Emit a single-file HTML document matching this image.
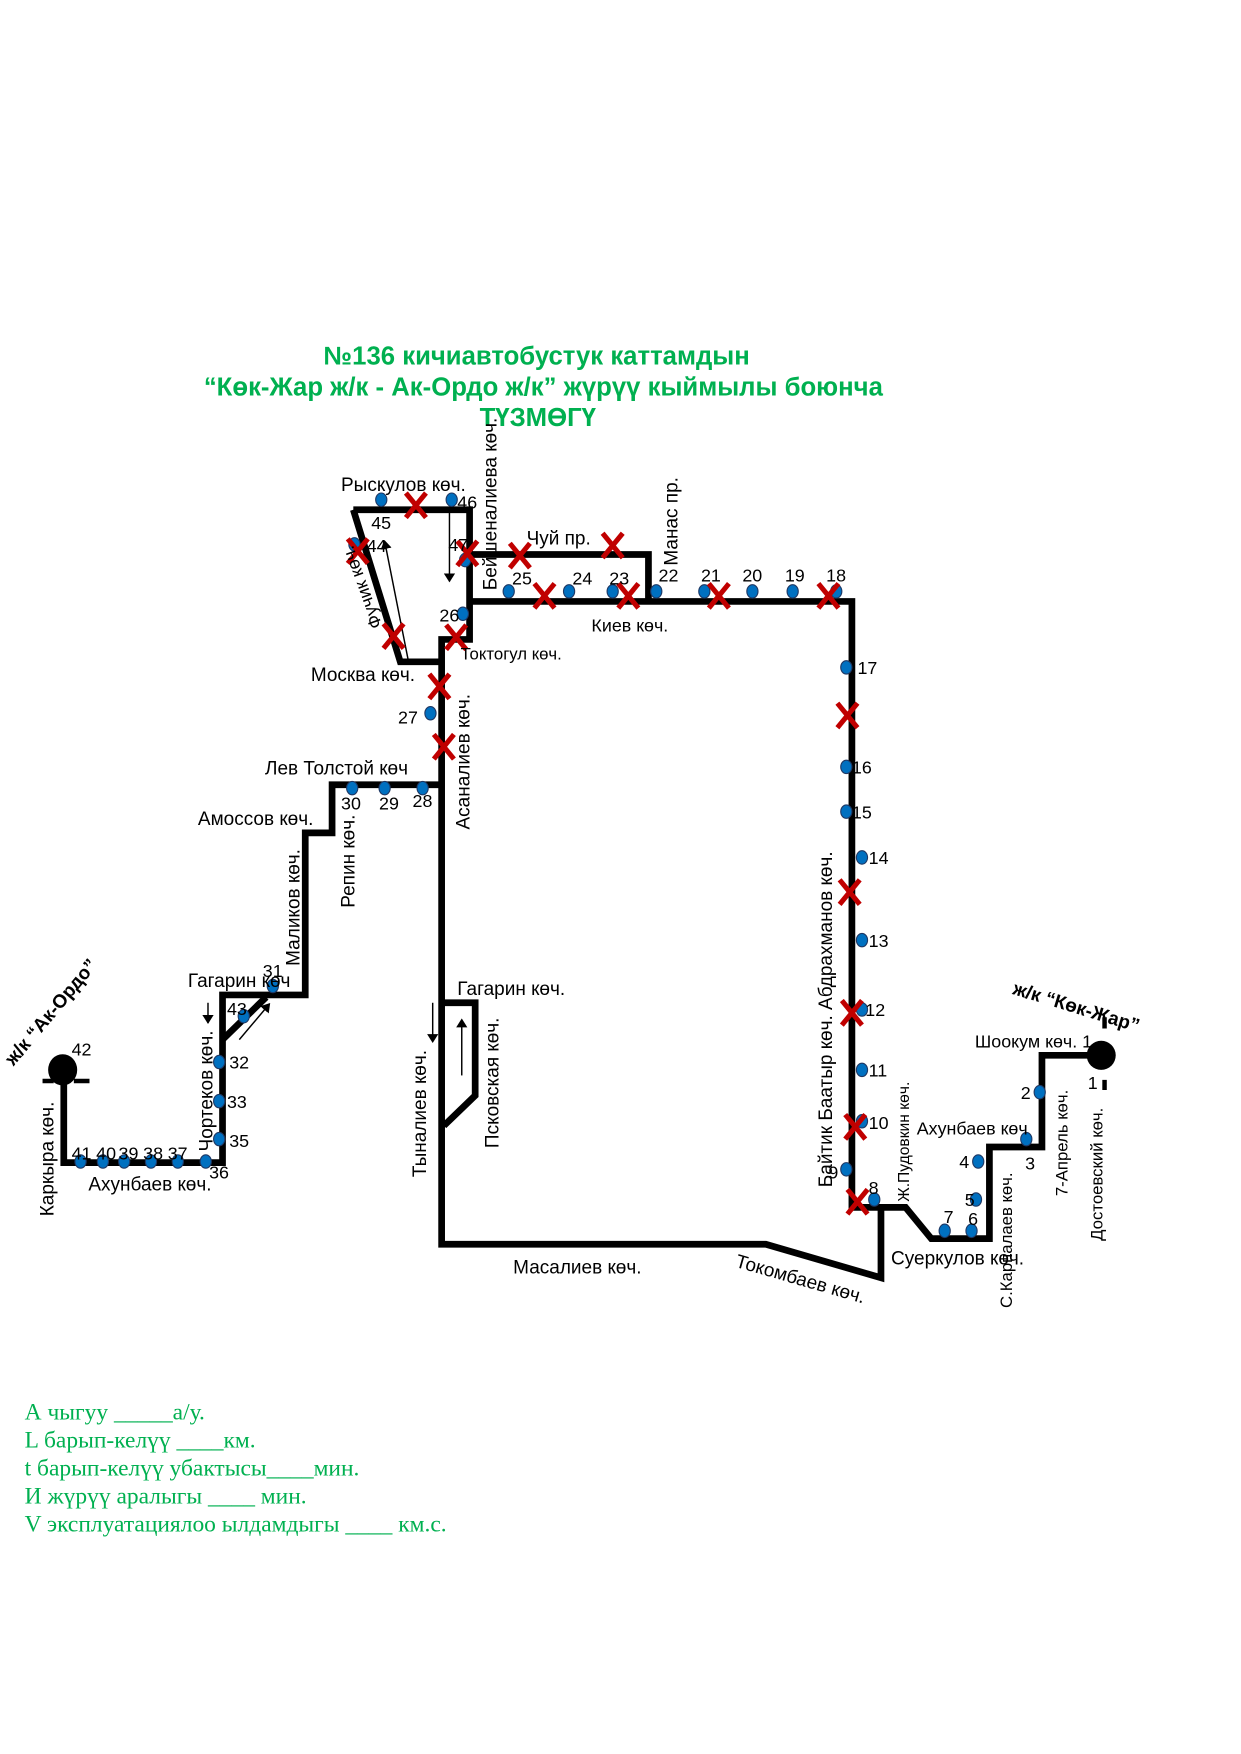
<!DOCTYPE html>
<html><head><meta charset="utf-8"><style>
html,body{margin:0;padding:0;background:#fff;}
svg{display:block;}
text{font-family:"Liberation Sans",sans-serif;fill:#000;}
.n{font-size:16px;}
.l{font-size:17px;}
.g{font-family:"Liberation Sans",sans-serif;font-weight:bold;font-size:23px;fill:#00b050;}
.s{font-family:"Liberation Serif",serif;font-size:21px;fill:#00b050;}
.r{stroke:#000;stroke-width:6;fill:none;stroke-linejoin:miter;}
.a{stroke:#000;stroke-width:1.3;fill:none;}
</style></head><body>
<svg width="1241" height="1754" viewBox="0 0 1110 1569" xmlns="http://www.w3.org/2000/svg">
<defs>
<marker id="ah" markerWidth="8" markerHeight="10" refX="7" refY="5" orient="auto" markerUnits="userSpaceOnUse"><path d="M0,0 L8,5 L0,10 z" fill="#000"/></marker>
<g id="x"><path d="M-9,-11 L9,11 M9,-11 L-9,11" stroke="#c00000" stroke-width="4.5"/></g>
</defs>
<text class="g" x="480" y="326" text-anchor="middle">№136  кичиавтобустук каттамдын</text>
<text class="g" x="486" y="354" text-anchor="middle">“Көк-Жар ж/к -  Ак-Ордо ж/к” жүрүү кыймылы боюнча</text>
<text class="g" x="481" y="381" text-anchor="middle">ТҮЗМӨГҮ</text>

<path class="r" d="M316,456 L420,456 L420,572 L395,572 L395,1113 L685,1113 L788,1143 L788,1080"/>
<path class="r" d="M316,456 L358,592 L395,592"/>
<path class="r" d="M420,496 L580,496 L580,538 M420,538 L762,538 L762,1080 L810,1080 L833,1108 L885,1108 L885,1026 L932,1026 L932,944 L984,944"/>
<path class="r" d="M395,702 L297,702 L297,745 L273,745 L273,890 L199,890 L199,1040 L57,1040 L57,957"/>
<path class="r" d="M199,930 L238,892"/>
<path class="r" d="M395,897 L425,897 L425,980 L397,1007"/>

<ellipse cx="56" cy="957" rx="13" ry="14" fill="#000"/>
<path d="M38,967 L48,967 M66,967 L80,967" stroke="#000" stroke-width="4"/>
<ellipse cx="985" cy="944" rx="13" ry="13" fill="#000"/>
<path d="M988,910 L988,920 M988,966 L988,975" stroke="#000" stroke-width="4"/>

<line class="a" x1="402" y1="458" x2="402" y2="520" marker-end="url(#ah)"/>
<line class="a" x1="365" y1="590" x2="344" y2="484" marker-end="url(#ah)"/>
<line class="a" x1="186" y1="897" x2="186" y2="915" marker-end="url(#ah)"/>
<line class="a" x1="214" y1="930" x2="241" y2="898" marker-end="url(#ah)"/>
<line class="a" x1="387" y1="897" x2="387" y2="932" marker-end="url(#ah)"/>
<line class="a" x1="413" y1="962" x2="413" y2="912" marker-end="url(#ah)"/>

<g fill="#0070c0" stroke="#1f3864" stroke-width="1">
<ellipse cx="341" cy="447" rx="5" ry="6"/><ellipse cx="404" cy="447" rx="5" ry="6"/>
<ellipse cx="317" cy="487" rx="5" ry="6"/><ellipse cx="416" cy="501" rx="5" ry="6"/>
<ellipse cx="455" cy="529" rx="5" ry="6"/><ellipse cx="509" cy="529" rx="5" ry="6"/>
<ellipse cx="548" cy="529" rx="5" ry="6"/><ellipse cx="587" cy="529" rx="5" ry="6"/>
<ellipse cx="630" cy="529" rx="5" ry="6"/><ellipse cx="673" cy="529" rx="5" ry="6"/>
<ellipse cx="709" cy="529" rx="5" ry="6"/><ellipse cx="748" cy="529" rx="5" ry="6"/>
<ellipse cx="414" cy="549" rx="5" ry="6"/><ellipse cx="385" cy="638" rx="5" ry="6"/>
<ellipse cx="378" cy="705" rx="5" ry="6"/><ellipse cx="344" cy="705" rx="5" ry="6"/>
<ellipse cx="315" cy="705" rx="5" ry="6"/><ellipse cx="244" cy="882" rx="5" ry="6"/>
<ellipse cx="218" cy="909" rx="5" ry="6"/><ellipse cx="196" cy="950" rx="5" ry="6"/>
<ellipse cx="196" cy="985" rx="5" ry="6"/><ellipse cx="196" cy="1019" rx="5" ry="6"/>
<ellipse cx="184" cy="1039" rx="5" ry="6"/><ellipse cx="159" cy="1039" rx="5" ry="6"/>
<ellipse cx="135" cy="1039" rx="5" ry="6"/><ellipse cx="111" cy="1039" rx="5" ry="6"/>
<ellipse cx="92" cy="1039" rx="5" ry="6"/><ellipse cx="72" cy="1039" rx="5" ry="6"/>
<ellipse cx="757" cy="597" rx="5" ry="6"/><ellipse cx="757" cy="686" rx="5" ry="6"/>
<ellipse cx="757" cy="726" rx="5" ry="6"/><ellipse cx="771" cy="767" rx="5" ry="6"/>
<ellipse cx="771" cy="841" rx="5" ry="6"/><ellipse cx="771" cy="903" rx="5" ry="6"/>
<ellipse cx="771" cy="957" rx="5" ry="6"/><ellipse cx="771" cy="1003" rx="5" ry="6"/>
<ellipse cx="757" cy="1046" rx="5" ry="6"/><ellipse cx="782" cy="1073" rx="5" ry="6"/>
<ellipse cx="845" cy="1101" rx="5" ry="6"/><ellipse cx="869" cy="1101" rx="5" ry="6"/>
<ellipse cx="873" cy="1073" rx="5" ry="6"/><ellipse cx="875" cy="1039" rx="5" ry="6"/>
<ellipse cx="918" cy="1019" rx="5" ry="6"/><ellipse cx="930" cy="977" rx="5" ry="6"/>
</g>

<use href="#x" x="372" y="452"/><use href="#x" x="320" y="493"/><use href="#x" x="352" y="569"/>
<use href="#x" x="408" y="570"/><use href="#x" x="418" y="495"/><use href="#x" x="465" y="497"/>
<use href="#x" x="548" y="488"/><use href="#x" x="487" y="533"/><use href="#x" x="562" y="533"/>
<use href="#x" x="643" y="533"/><use href="#x" x="741" y="533"/><use href="#x" x="393" y="614"/>
<use href="#x" x="397" y="668"/><use href="#x" x="758" y="640"/><use href="#x" x="760" y="798"/>
<use href="#x" x="762" y="906"/><use href="#x" x="765" y="1008"/><use href="#x" x="767" y="1075"/>

<g class="n">
<text x="332" y="473">45</text><text x="409" y="455">46</text><text x="328" y="494">44</text>
<text x="401" y="493">47</text><text x="458" y="523">25</text><text x="512" y="523">24</text>
<text x="545" y="523">23</text><text x="589" y="520">22</text><text x="627" y="520">21</text>
<text x="664" y="520">20</text><text x="702" y="520">19</text><text x="739" y="520">18</text>
<text x="393" y="556">26</text><text x="356" y="647">27</text><text x="369" y="722">28</text>
<text x="339" y="724">29</text><text x="305" y="724">30</text><text x="235" y="874">31</text>
<text x="203" y="908">43</text><text x="205" y="956">32</text><text x="203" y="991">33</text>
<text x="205" y="1026">35</text><text x="187" y="1054">36</text>
<text x="150" y="1037">37</text><text x="128" y="1037">38</text><text x="106" y="1037">39</text>
<text x="86" y="1037">40</text><text x="64" y="1037">41</text><text x="64" y="944">42</text>
<text x="767" y="603">17</text><text x="762" y="692">16</text><text x="762" y="732">15</text>
<text x="777" y="773">14</text><text x="777" y="847">13</text><text x="774" y="909">12</text>
<text x="777" y="963">11</text><text x="777" y="1010">10</text><text x="741" y="1054">9</text>
<text x="777" y="1068">8</text><text x="844" y="1094">7</text><text x="866" y="1096">6</text>
<text x="863" y="1079">5</text><text x="858" y="1045">4</text><text x="917" y="1046">3</text>
<text x="913" y="983">2</text><text x="968" y="937">1</text><text x="973" y="974">1</text>
</g>

<g class="l">
<text x="305" y="439">Рыскулов көч.</text>
<text transform="translate(444,528) rotate(-90)">Бейшеналиева көч.</text>
<text x="471" y="487">Чуй пр.</text>
<text transform="translate(606,506) rotate(-90)">Манас пр.</text>
<text x="529" y="565" font-size="16">Киев көч.</text>
<text x="412" y="590" font-size="15">Токтогул көч.</text>
<text transform="translate(342,560) rotate(-110)" font-size="16">Фучик көч.</text>
<text x="278" y="609">Москва көч.</text>
<text transform="translate(420,742) rotate(-90)">Асаналиев көч.</text>
<text x="237" y="693">Лев Толстой  көч</text>
<text x="177" y="738">Амоссов көч.</text>
<text transform="translate(317,812) rotate(-90)">Репин көч.</text>
<text transform="translate(268,864) rotate(-90)">Маликов көч.</text>
<text x="168" y="883">Гагарин көч</text>
<text transform="translate(190,1030) rotate(-90)">Чортеков көч.</text>
<text transform="translate(12,954) rotate(-50)" font-weight="bold" font-size="17">ж/к “Ак-Ордо”</text>
<text transform="translate(48,1088) rotate(-90)">Каркыра көч.</text>
<text x="79" y="1065">Ахунбаев көч.</text>
<text x="409" y="890">Гагарин көч.</text>
<text transform="translate(381,1053) rotate(-90)">Тыналиев көч.</text>
<text transform="translate(446,1027) rotate(-90)">Псковская көч.</text>
<text x="459" y="1139">Масалиев көч.</text>
<text transform="translate(657,1133) rotate(16)">Токомбаев көч.</text>
<text x="797" y="1131">Суеркулов көч.</text>
<text transform="translate(905,1170) rotate(-90)" font-size="15">С.Карпалаев көч.</text>
<text transform="translate(813,1075) rotate(-90)" font-size="14">Ж.Пудовкин көч.</text>
<text transform="translate(744,1062) rotate(-90)">Байтик Баатыр көч. Абдрахманов көч.</text>
<text x="820" y="1015" font-size="16">Ахунбаев көч</text>
<text x="872" y="937" font-size="16">Шоокум көч.</text>
<text transform="translate(955,1070) rotate(-90)" font-size="15">7-Апрель көч.</text>
<text transform="translate(986,1110) rotate(-90)" font-size="15">Достоевский көч.</text>
<text transform="translate(905,889) rotate(17)" font-weight="bold" font-size="17">ж/к “Көк-Жар”</text>
</g>

<text class="s" x="22" y="1270">А чыгуу    _____а/у.</text>
<text class="s" x="22" y="1295">L барып-келүү  ____км.</text>
<text class="s" x="22" y="1320">t барып-келүү убактысы____мин.</text>
<text class="s" x="22" y="1345">И жүрүү аралыгы ____      мин.</text>
<text class="s" x="22" y="1370">V эксплуатациялоо ылдамдыгы ____ км.с.</text>
</svg>
</body></html>
